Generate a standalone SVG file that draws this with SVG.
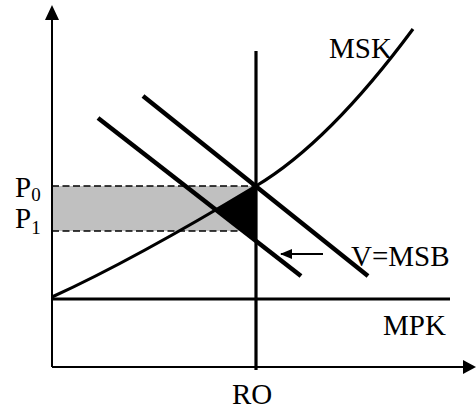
<svg xmlns="http://www.w3.org/2000/svg" width="476" height="411" viewBox="0 0 476 411">
<style>
.lbl{font-family:"Liberation Serif","Times New Roman",serif;font-size:29px;fill:#000}
.sub{font-size:19px}
.axis{stroke:#000;stroke-width:2;fill:none}
.thick{stroke:#000;stroke-width:3.2;fill:none}
.dem{stroke:#000;stroke-width:4.5;fill:none}
.dash{stroke:#000;stroke-width:1.5;stroke-dasharray:7,3.5;fill:none}
</style>
<defs>
<marker id="ah" markerWidth="12" markerHeight="10" refX="11" refY="5" orient="auto" markerUnits="userSpaceOnUse">
<path d="M0,0 L12,5 L0,10 Z" fill="#000"/>
</marker>
</defs>
<g id="shading">
<rect x="52" y="186" width="204" height="45" fill="#c0c0c0"/>
<polygon points="256,186 215,210 256,241" fill="#000"/>
</g>
<g id="axes">
<line class="axis" x1="52" y1="367" x2="52" y2="18"/>
<polygon points="52,5 45,20 59,20" fill="#000"/>
<line class="axis" x1="52" y1="367" x2="464" y2="367"/>
<polygon points="476,367 463,360 463,374" fill="#000"/>
</g>
<g id="connectors">
<line class="dash" x1="52" y1="186" x2="256" y2="186"/>
<line class="dash" x1="52" y1="231" x2="240" y2="231"/>
<line class="thick" x1="256" y1="51" x2="256" y2="370"/>
<line class="thick" x1="52" y1="299" x2="450" y2="299"/>
<path class="thick" d="M52,297 C120,266 188,227 256,186 C318,149 373,83 413,29"/>
<line class="dem" x1="143" y1="96" x2="368" y2="276"/>
<line class="dem" x1="98" y1="118" x2="301" y2="276"/>
<line stroke="#000" stroke-width="2" x1="323" y1="254" x2="281" y2="254" marker-end="url(#ah)"/>
</g>
<g id="labels">
<text class="lbl" x="329" y="58">MSK</text>
<text class="lbl" x="351" y="266">V=MSB</text>
<text class="lbl" x="383" y="335">MPK</text>
<text class="lbl" x="232" y="404">RO</text>
<text class="lbl" x="15" y="197">P<tspan class="sub" dy="4">0</tspan></text>
<text class="lbl" x="15" y="228">P<tspan class="sub" dy="6">1</tspan></text>
</g>
</svg>
